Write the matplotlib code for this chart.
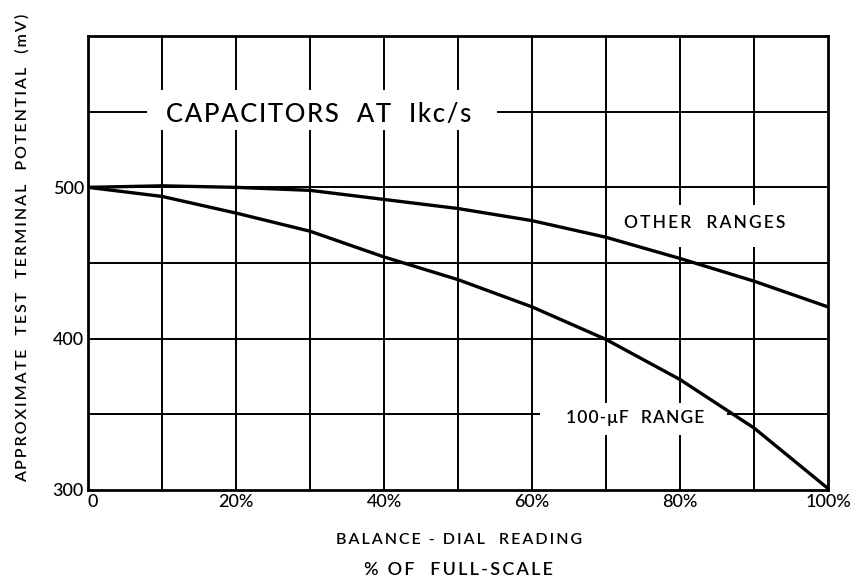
import matplotlib
matplotlib.use("Agg")
import matplotlib.pyplot as plt
from matplotlib.patches import Rectangle

# ---- data ----
dial_pct = [0, 10, 20, 30, 40, 50, 60, 70, 80, 90, 100]
other_ranges_mv = [500, 501, 500, 498, 492, 486, 478, 467, 453, 438, 421]
uf100_range_mv = [500, 494, 483, 471, 454, 439, 421, 399.5, 373, 341, 301]

x_tick_vals = [0, 20, 40, 60, 80, 100]
x_tick_labels = ["0", "20%", "40%", "60%", "80%", "100%"]
y_tick_vals = [300, 400, 500]
y_tick_labels = ["300", "400", "500"]

title_text = "CAPACITORS  AT  Ikc/s"
label_other = "OTHER  RANGES"
label_uf = "100-μF  RANGE"
x_label_1 = "BALANCE - DIAL  READING"
x_label_2 = "% OF  FULL-SCALE"
y_label = "APPROXIMATE  TEST  TERMINAL  POTENTIAL  (mV)"

FONT = ["Lato", "DejaVu Sans"]
plt.rcParams["font.family"] = FONT


def tracked(s, gap="\u200a"):
    """Add letter spacing using hair spaces."""
    return gap.join(s)


fig = plt.figure(figsize=(8.61, 5.84), dpi=100)
ax = fig.add_axes([88 / 861, 1 - 490 / 584, 740 / 861, 454 / 584])

ax.set_xlim(0, 100)
ax.set_ylim(300, 600)

# grid
for gx in range(10, 100, 10):
    ax.axvline(gx, color="black", lw=1.4, zorder=1)
for gy in range(350, 600, 50):
    ax.axhline(gy, color="black", lw=1.4, zorder=1)

for s in ax.spines.values():
    s.set_linewidth(2.0)
    s.set_color("black")

# white label boxes (break the grid)
ax.add_patch(Rectangle((8.0, 538), 47.3, 26.4, facecolor="white", edgecolor="none", zorder=2))
ax.add_patch(Rectangle((70.8, 460.6), 25.4, 27.8, facecolor="white", edgecolor="none", zorder=2))
ax.add_patch(Rectangle((61.1, 336.4), 25.3, 21.1, facecolor="white", edgecolor="none", zorder=2))

# curves
ax.plot(dial_pct, other_ranges_mv, color="black", lw=2.4, zorder=4, solid_capstyle="butt")
ax.plot(dial_pct, uf100_range_mv, color="black", lw=2.4, zorder=4, solid_capstyle="butt")

ax.text(31.2, 548, tracked(title_text), ha="center", va="center", fontsize=18.5,
        fontweight="medium", zorder=3)
ax.text(83.4, 476.5, tracked(label_other, "\u2009"), ha="center", va="center", fontsize=12.5,
        fontweight="semibold", zorder=3)
ax.text(73.9, 347.5, tracked(label_uf, "\u200a"), ha="center", va="center", fontsize=12.5,
        fontweight="semibold", zorder=3)

# ticks
ax.set_xticks(x_tick_vals)
ax.set_xticklabels(x_tick_labels, fontsize=13, fontweight="medium")
ax.set_yticks(y_tick_vals)
ax.set_yticklabels(y_tick_labels, fontsize=13, fontweight="medium")
ax.tick_params(length=0, pad=3)
labs = ax.get_xticklabels()
labs[0].set_ha("left")

fig.text(459 / 861, 1 - 540 / 584, tracked(x_label_1, "\u2009"), ha="center", va="center",
         fontsize=11.5, fontweight="semibold")
fig.text(458 / 861, 1 - 570 / 584, tracked(x_label_2, "\u2009"), ha="center", va="center",
         fontsize=13, fontweight="semibold")
fig.text(22 / 861, 1 - 248 / 584, tracked(y_label, "\u2009"), ha="center", va="center",
         rotation=90, fontsize=11.5, fontweight="semibold")

fig.savefig("out.png", dpi=100, facecolor="white")
